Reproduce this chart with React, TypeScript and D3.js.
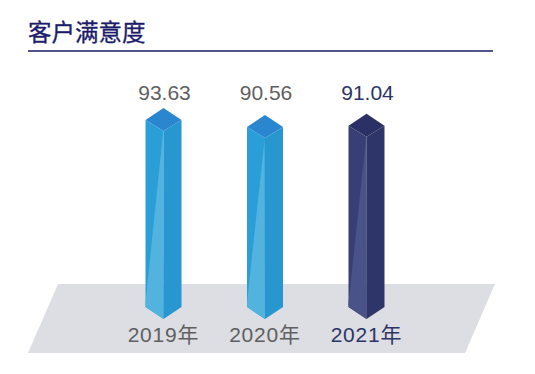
import React from "react";
import * as d3 from "d3";

// chart data
const years = ["2019年", "2020年", "2021年"];
const values = [93.63, 90.56, 91.04];
const highlight = [false, false, true];

const width = 535;
const height = 374;

const blue = { top: "#2a86cf", left: "#2a9fd7", sheen: "#52b3df", right: "#2897d0", text: "#5f5f5f" };
const navy = { top: "#2b3164", left: "#373f74", sheen: "#4a5387", right: "#2e3669", text: "#2d3466" };

export default function App() {
  // x centers of the bars
  const x = d3.scalePoint<string>().domain(years).range([163.5, 366.5]);
  // bottom point of the prism sits at 319
  const y = d3.scaleLinear().domain([0, 100]).range([319, 93.6]);
  const w = 18;

  const line = d3.line();

  return (
    <svg width={width} height={height} style={{ position: "absolute", left: 0, top: 0, background: "#fff" }}>
      {/* title */}
      <text x={28} y={41} fontSize={23.5} fill="#1c1c6b" stroke="#1c1c6b" strokeWidth={0.3} fontFamily="'Noto Sans CJK SC', sans-serif">客户满意度</text>
      <line x1={28} x2={493} y1={51} y2={51} stroke="#1a1a66" strokeWidth={1.6} />

      {/* floor */}
      <path d={line([[58, 284], [495, 284], [465, 353], [28, 353]]) + "Z"} fill="#dcdee3" />

      {years.map((yr, i) => {
        const c = highlight[i] ? navy : blue;
        const cx = x(yr) as number;
        const bot = y(0);
        const top = y(values[i]);
        const side = top + 12;
        const front = top + 23;
        const sideBot = bot - 12;
        return (
          <g key={yr}>
            {/* left face */}
            <path d={line([[cx - w, side], [cx, front], [cx, bot], [cx - w, sideBot]]) + "Z"} fill={c.left} />
            {/* sheen on left face */}
            <path d={line([[cx - 0.5, front + 2], [cx - w, sideBot - 4], [cx - w, sideBot], [cx, bot]]) + "Z"} fill={c.sheen} />
            {/* right face */}
            <path d={line([[cx, front], [cx + w, side], [cx + w, sideBot], [cx, bot]]) + "Z"} fill={c.right} />
            {/* top face */}
            <path d={line([[cx, top], [cx + w, side], [cx, front], [cx - w, side]]) + "Z"} fill={c.top} />
            {/* value label */}
            <text x={cx + 1} y={99.5} textAnchor="middle" fontSize={21} fill={c.text} fontFamily="'Liberation Sans', Arial, sans-serif">
              {values[i].toFixed(2)}
            </text>
            {/* year label */}
            <text x={cx} y={342} textAnchor="middle" fontSize={21} letterSpacing={0.8} fill={c.text} fontFamily="'Liberation Sans', 'Noto Sans CJK SC', sans-serif">
              {yr}
            </text>
          </g>
        );
      })}
    </svg>
  );
}
